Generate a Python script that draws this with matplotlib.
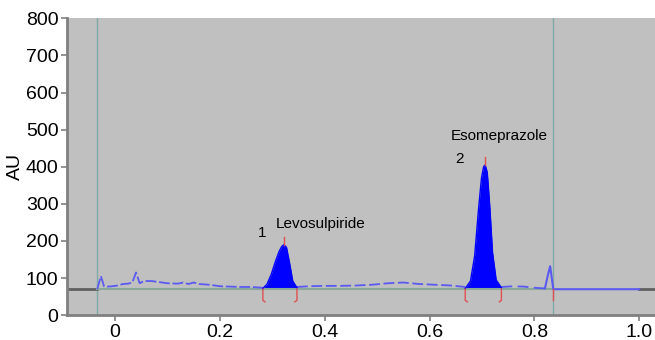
import matplotlib.pyplot as plt
import numpy as np

plt.rcParams['font.family'] = ['Liberation Sans', 'DejaVu Sans']

# chromatogram trace (Rf vs AU)
noise1_x = [-0.034, -0.027, -0.021, -0.015, -0.005, 0.005, 0.015, 0.025, 0.033, 0.04, 0.047, 0.055, 0.07, 0.09, 0.1, 0.12, 0.13, 0.14, 0.15, 0.16, 0.18, 0.2, 0.22, 0.24, 0.26, 0.282]
noise1_y = [70, 105, 78, 77, 78, 80, 84, 85, 88, 115, 86, 92, 92, 88, 86, 85, 88, 84, 88, 84, 82, 78, 77, 76, 76, 74]
peak1_x = [0.282, 0.29, 0.298, 0.306, 0.313, 0.318, 0.322, 0.327, 0.333, 0.339, 0.347]
peak1_y = [72, 84, 110, 145, 172, 185, 190, 183, 140, 92, 74]
noise2_x = [0.347, 0.37, 0.4, 0.43, 0.46, 0.49, 0.52, 0.55, 0.58, 0.61, 0.64, 0.668]
noise2_y = [76, 78, 79, 79, 80, 82, 86, 88, 84, 82, 80, 76]
peak2_x = [0.668, 0.678, 0.686, 0.693, 0.699, 0.703, 0.706, 0.71, 0.715, 0.72, 0.727, 0.737]
peak2_y = [72, 92, 160, 280, 370, 400, 405, 385, 290, 170, 95, 74]
noise3_x = [0.737, 0.76, 0.78, 0.8, 0.82, 0.826, 0.83, 0.836, 0.86, 0.9, 0.95, 1.0]
noise3_y = [76, 78, 77, 74, 72, 110, 132, 70, 70, 70, 70, 70]

peak_bounds = [(0.282, 0.347), (0.668, 0.737)]
peak_tops = [(0.322, 190), (0.706, 405)]
front_line = 0.836
start_line = -0.034
base = 70

fig = plt.figure(figsize=(6.55, 3.4), dpi=100)
ax = fig.add_axes([0.102, 0.073, 0.898, 0.873])
ax.set_facecolor('#c0c0c0')

ax.axvline(start_line, color='#7fa8a8', lw=1)
ax.axvline(front_line, color='#7fa8a8', lw=1)

# baselines
ax.plot([-0.1, start_line], [base, base], color='#606060', lw=2)
ax.plot([1.0, 1.05], [base, base], color='#606060', lw=2)
ax.plot([start_line, front_line], [base, base], color='#8aa89a', lw=1.5)

blue = '#5a5af0'
ax.plot(noise1_x, noise1_y, color=blue, lw=1.3, dashes=(6, 1.5))
ax.plot(noise2_x, noise2_y, color=blue, lw=1.3, dashes=(6, 2))
ax.plot(noise3_x[:5], noise3_y[:5], color=blue, lw=1.3, dashes=(6, 3))
ax.plot(noise3_x[4:], noise3_y[4:], color=blue, lw=1.5)

for px, py in [(peak1_x, peak1_y), (peak2_x, peak2_y)]:
    ax.fill_between(px, base, py, color='#0000ff', lw=0)
    ax.plot(px, py, color='#0000ff', lw=1)

for x0, x1 in peak_bounds:
    ax.plot([x0, x0, x0 + 0.004], [base, 40, 36], color='#e05050', lw=1)
    ax.plot([x1, x1, x1 - 0.004], [base, 40, 36], color='#e05050', lw=1)
for tx, ty in peak_tops:
    ax.plot([tx, tx], [ty, ty + 22], color='#e05050', lw=1)
ax.plot([front_line, front_line], [base, 40], color='#e05050', lw=1)

ax.text(0.28, 222, '1', fontsize=11, ha='center', va='center')
ax.text(0.307, 247, 'Levosulpiride', fontsize=11, ha='left', va='center')
ax.text(0.64, 482, 'Esomeprazole', fontsize=11, ha='left', va='center')
ax.text(0.657, 420, '2', fontsize=11, ha='center', va='center')

ax.set_xlim(-0.092, 1.03)
ax.set_ylim(0, 800)
ax.set_xticks([0, 0.2, 0.4, 0.6, 0.8, 1.0])
ax.set_xticklabels(['0', '0.2', '0.4', '0.6', '0.8', '1.0'])
ax.set_yticks(np.arange(0, 801, 100))
ax.tick_params(labelsize=14, color='#808080', length=4, width=1.2, pad=2)
ax.set_ylabel('AU', fontsize=14, labelpad=1)
for s in ['top', 'right']:
    ax.spines[s].set_visible(False)
for s in ['left', 'bottom']:
    ax.spines[s].set_color('#808080')
    ax.spines[s].set_linewidth(2)

fig.savefig('out.png', dpi=100)
